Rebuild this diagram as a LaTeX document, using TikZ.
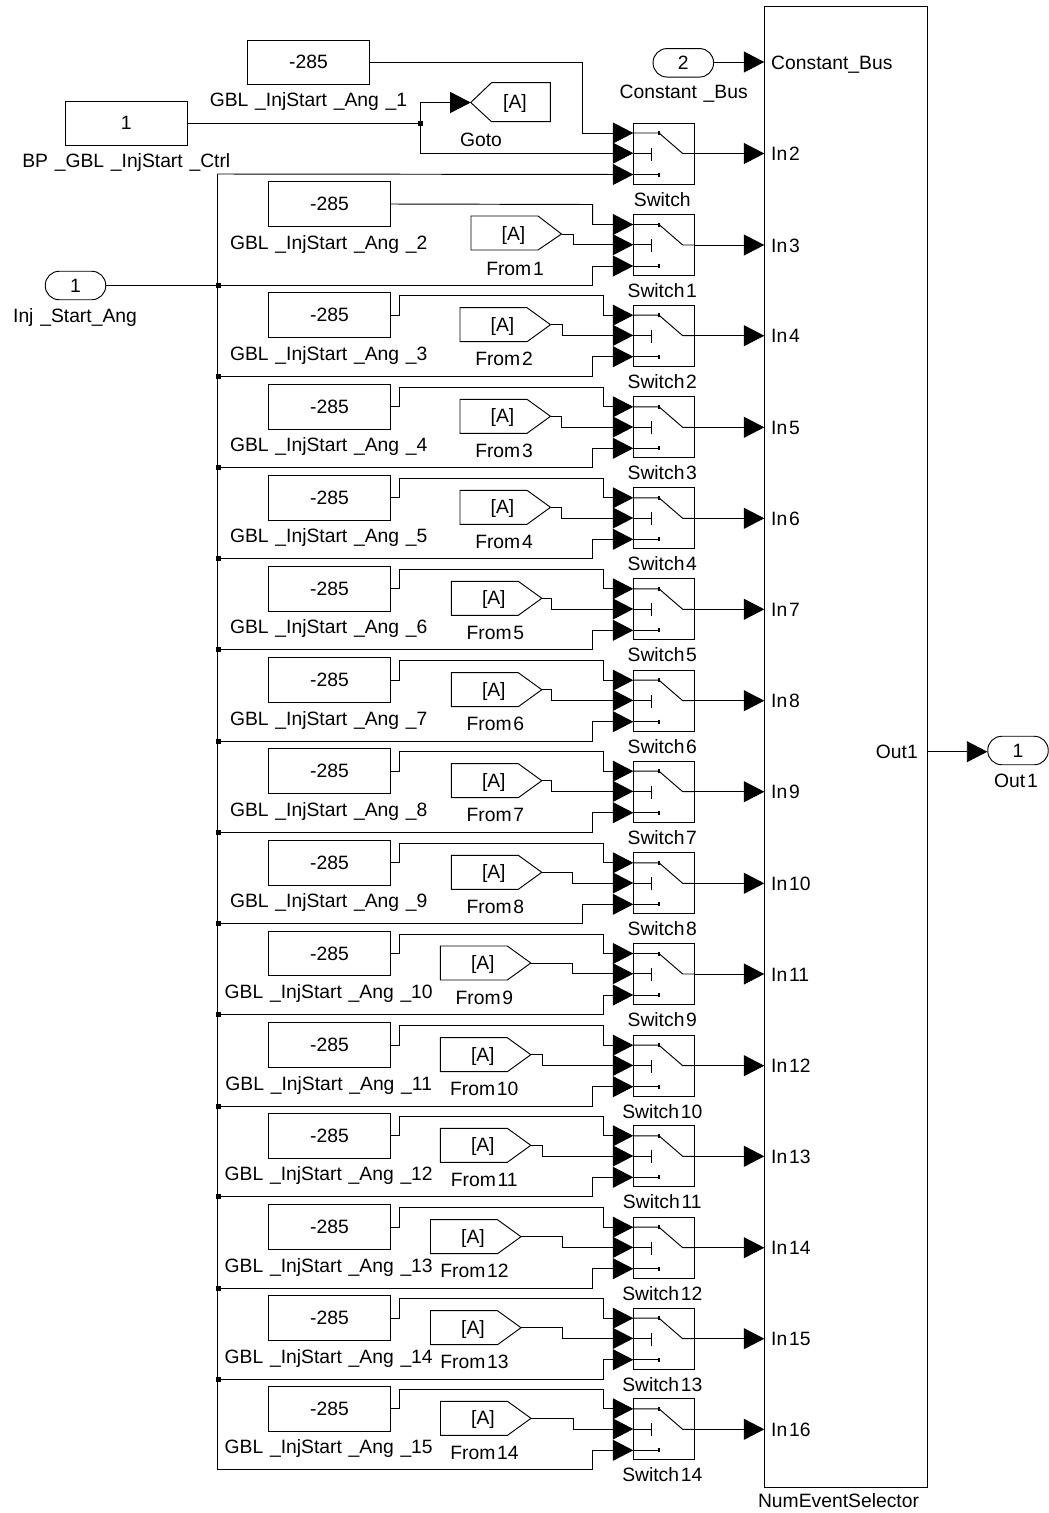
\documentclass[tikz,border=0pt]{standalone}
\usepackage{fontspec}
\setmainfont{Liberation Sans}
\usetikzlibrary{arrows.meta}
\tikzset{
  wire/.style={line width=0.95pt,line join=miter},
  arrowwire/.style={wire,-{Triangle[length=20.5pt,width=21pt]}},
  block/.style={draw,line width=0.95pt,inner sep=0pt,font=\txt},
  constblock/.style={block,minimum width=121.5pt,minimum height=44.5pt},
  swblock/.style={draw,line width=0.95pt,inner sep=0pt,minimum width=61pt,minimum height=61pt,anchor=north west},
  pill/.style={block,rounded corners=14pt,minimum width=60.5pt,minimum height=28.5pt},
  tag/.style={inner sep=0pt,font=\txt,anchor=base},
  tagnarrow/.style={inner sep=0pt,font=\txtn,anchor=base},
  porttag/.style={inner sep=0pt,font=\txtn,anchor=base west},
  icon/.style={line width=0.95pt},
  tick/.style={line width=1.8pt},
  junction/.style={fill=black,inner sep=0pt,minimum size=5pt},
}
\newcommand{\txt}{\fontsize{19.3}{22}\selectfont\spaceskip=0.35em\relax}
\newcommand{\txtn}{\fontsize{19.3}{22}\selectfont\spaceskip=0.09em\relax}
\begin{document}
\begin{tikzpicture}[x=1pt,y=-1pt]
\useasboundingbox (0,0) rectangle (1049,1513);
% main subsystem
\node[draw,line width=0.95pt,inner sep=0pt,minimum width=162.7pt,minimum height=1481pt] (main) at (845.65,746.5) {};
\node[tagnarrow] (mainlabel) at (838.5,1507) {NumEventSelector};
\node[inner sep=0pt,font=\txt,anchor=base east] (outtxt) at (918,758.3) {Out1};
\coordinate (mainout) at (927,751.7);
\coordinate (portbus) at (764.3,62);
\node[porttag] (inbus) at (771,69) {Constant\_Bus};
% outports and inports
\node[pill] (out1) at (1018,750.5) {1};
\node[tagnarrow] (out1label) at (1016,787.3) {Out 1};
\draw[arrowwire] (mainout) -- (out1.west |- mainout);
\node[pill] (bus) at (683.3,62.8) {2};
\node[tag] (buslabel) at (683.7,98.3) {Constant \_Bus};
\draw[arrowwire] (bus.east |- portbus) -- (portbus);
\node[pill] (inj) at (75.5,285.5) {1};
\node[tag] (injlabel) at (75,322.7) {Inj \_Start\_Ang};
% top constants
\node[constblock] (ctrl) at (126.3,123.5) {\raisebox{1pt}{1}};
\node[tag] (ctrllabel) at (126.3,167) {BP \_GBL \_InjStart \_Ctrl};
\node[constblock] (c0) at (308.5,62.5) {\raisebox{1pt}{-285}};
\node[tag] (c0label) at (308.5,106.7) {GBL \_InjStart \_Ang \_1};
% goto
\coordinate (gotoapex) at (470.7,102.5);
\draw[line width=0.95pt] (gotoapex) -- (491.5,82.7) -- (550.3,82.7) -- (550.3,121.7) -- (491.5,121.7) -- cycle;
\node[inner sep=0pt,font=\txt] (gototxt) at (515,103.7) {[A]};
\node[tag] (gotolabel) at (481,146.7) {Goto};
\coordinate (j0) at (420.3,123);
\node[junction] (jn0) at (j0) {};
\draw[wire] (ctrl.east |- j0) -- (j0);
\draw[arrowwire] (j0) -- (420.3,102.5) -- (gotoapex);
% bus trunk
\coordinate (trunktop) at (217.3,174);
\coordinate (trunkbot) at (217.3,1470);
\draw[wire] (trunktop) -- (trunkbot);
\coordinate (jinj) at (218.3,285.5);
\draw[wire] (inj.east) -- (jinj);
\node[junction] (jnj) at (jinj) {};
% switches
\foreach \i/\s/\Fl/\Fs/\Bx in {0/122.5/0/0/0,1/214/471/573/592.7,2/304.7/460/562/592.7,3/396.3/460/561.7/592.7,4/487.3/460/561.7/592.7,5/578.3/451.3/551.7/592.7,6/669.7/451.3/551.7/592.7,7/760.7/451.3/551.7/592.7,8/852.3/451.3/572.7/582,9/943/440.3/572.7/603.3,10/1034.7/440.3/542.7/592.7,11/1125.3/440.3/542.7/592.7,12/1216.7/430.5/562/592.7,13/1307.7/430.5/562/603.3,14/1398.3/440.5/573/592.7}{
  \pgfmathtruncatemacro{\n}{\i+2}
  \pgfmathtruncatemacro{\m}{\i+1}
  \node[swblock] (sw\i) at (633.3,\s) {};
  \coordinate (sw\i a) at (633.3,\s+10.5);
  \coordinate (sw\i b) at (633.3,\s+30.7);
  \coordinate (sw\i c) at (633.3,\s+52);
  \coordinate (sw\i o) at (694.3,\s+31);
  \coordinate (port\n) at (764.3,\s+31);
  % icon
  \draw[icon] (sw\i a) -- (659,\s+10.5) -- (682.7,\s+31) -- (sw\i o);
  \draw[icon] (sw\i b) -- (651.7,\s+30.7);
  \draw[icon] (651.7,\s+25) -- (651.7,\s+38);
  \draw[icon] (sw\i c) -- (659,\s+52);
  \draw[tick] (659,\s+8.5) -- (659,\s+12.5);
  \draw[tick] (659,\s+50) -- (659,\s+54);
  % output
  \draw[arrowwire] (sw\i o) -- (port\n);
  \node[porttag] (in\n) at (771,\s+38) {In \n};
  % label
  \ifnum\i=0
    \node[tag] (swl\i) at (662.3,\s+83.5) {Switch};
    \draw[arrowwire] (c0.east) -- (582,62.5) -- (582,\s+10.5) -- (sw\i a);
    \draw[arrowwire] (j0) -- (420.3,\s+30.7) -- (sw\i b);
    \draw[arrowwire] (trunktop) -- (sw\i c);
  \else
    \node[tagnarrow] (swl\i) at (662.3,\s+83.5) {Switch \i};
    \ifnum\i=1
      \node[constblock] (c\i) at (329.5,204) {\raisebox{-2pt}{-285}};
      \node[tag] (cl\i) at (328.7,249.3) {GBL \_InjStart \_Ang \_\m};
      \draw[arrowwire] (c\i.east) -- (592.7,204.5) -- (592.7,\s+10.5) -- (sw\i a);
      \coordinate (fa\i) at (\Fl+90.5,\s+20);
      \draw[line width=0.95pt] (\Fl,\s+2) -- (\Fl+67,\s+2) -- (fa\i) -- (\Fl+67,\s+36) -- (\Fl,\s+36) -- cycle;
      \node[inner sep=0pt,font=\txt] (ft\i) at (\Fl+42.5,\s+21.5) {[A]};
    \else
      \node[constblock] (c\i) at (329.5,\s+10.5) {\raisebox{-2pt}{-285}};
      \node[tag] (cl\i) at (328.7,\s+55.3) {GBL \_InjStart \_Ang \_\m};
      \draw[arrowwire] (c\i.east) -- (399,\s+10.5) -- (399,\s-9) -- (603.3,\s-9) -- (603.3,\s+10.5) -- (sw\i a);
      \coordinate (fa\i) at (\Fl+90.5,\s+20);
      \draw[line width=0.95pt] (\Fl,\s+3) -- (\Fl+67,\s+3) -- (fa\i) -- (\Fl+67,\s+37) -- (\Fl,\s+37) -- cycle;
      \node[inner sep=0pt,font=\txt] (ft\i) at (\Fl+42.5,\s+21.5) {[A]};
    \fi
    \node[tagnarrow] (fl\i) at (\Fl+44,\s+61) {From \i};
    \draw[arrowwire] (fa\i) -- (\Fs,\s+20) -- (\Fs,\s+30.7) -- (sw\i b);
    \ifnum\i=1
      \coordinate (tap\i) at (jinj);
    \else
      \coordinate (tap\i) at (217.3,\s+71.5);
      \ifnum\i<14
        \node[junction] (jn\i) at (218.3,\s+71.5) {};
      \fi
    \fi
    \draw[arrowwire] (tap\i) -- (\Bx,\s+71.5 |- tap\i) -- (\Bx,\s+52) -- (sw\i c);
  \fi
}
\end{tikzpicture}
\end{document}
